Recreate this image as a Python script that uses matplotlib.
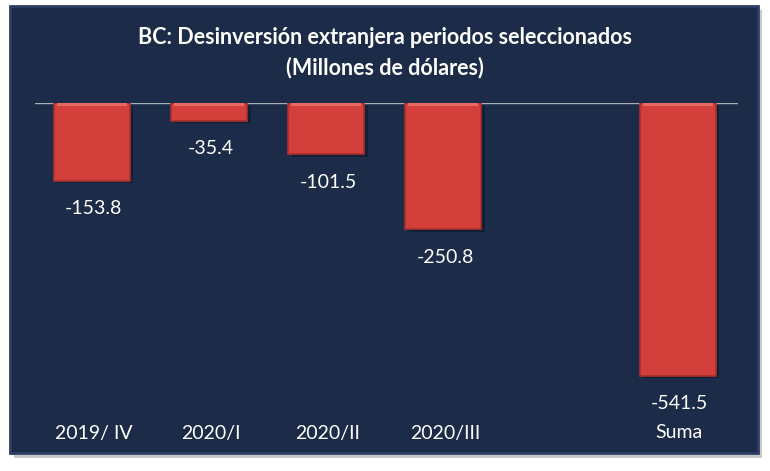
import matplotlib.pyplot as plt
from matplotlib.patches import Rectangle

categories = ['2019/ IV', '2020/I', '2020/II', '2020/III', '', 'Suma']
values = [-153.8, -35.4, -101.5, -250.8, None, -541.5]
labels = ['-153.8', '-35.4', '-101.5', '-250.8', '', '-541.5']

fig = plt.figure(figsize=(7.7, 4.71), dpi=100)
fig.patch.set_facecolor('white')

# dark panel with a soft shadow
W, H = 770, 471
fig.patches.append(Rectangle((14 / W, 1 - 458 / H), 748 / W, 448 / H,
                             transform=fig.transFigure, facecolor='#c9c9c9',
                             edgecolor='none', zorder=-2))
fig.patches.append(Rectangle((10 / W, 1 - 453 / H), 748 / W, 447 / H,
                             transform=fig.transFigure, facecolor='#1b2b48',
                             edgecolor='#2c4064', linewidth=2, zorder=-1))

fig.text(385 / W, 1 - 38 / H, 'BC: Desinversión extranjera periodos seleccionados',
         ha='center', va='center', color='white', fontsize=15.5, fontweight='bold',
         family='Lato')
fig.text(385 / W, 1 - 68 / H, '(Millones de dólares)',
         ha='center', va='center', color='white', fontsize=15.5, fontweight='bold',
         family='Lato')

ax = fig.add_axes([35 / W, 1 - 410 / H, 703 / W, 307 / H])
ax.set_facecolor('none')
ax.set_xlim(-0.5, 5.5)
ax.set_ylim(-609, 0)
for s in ax.spines.values():
    s.set_visible(False)
ax.set_xticks([])
ax.set_yticks([])
ax.axhline(0, color='#a8b0bd', linewidth=1, zorder=1)

xs = [i for i, v in enumerate(values) if v is not None]
vs = [v for v in values if v is not None]
# shadow, main bar, lighter top bevel
ax.bar([x + 0.015 for x in xs], vs, width=0.65, bottom=-5, color='#0e1727',
       alpha=0.6, zorder=2)
ax.bar([x - 0.015 for x in xs], vs, width=0.65, color='#d3403c',
       edgecolor='#a8302d', linewidth=1.2, zorder=3)
ax.bar([x - 0.015 for x in xs], [-6] * len(xs), width=0.6, color='#e86a63',
       zorder=4)

for x, v in zip(xs, vs):
    ax.annotate(labels[x], (x, v), xytext=(0, -14), textcoords='offset points',
                ha='center', va='top', color='white', fontsize=14, family='Lato')

for i, c in enumerate(categories):
    fig.text((35 + (i + 0.5) * 703 / 6) / W, 1 - 433 / H, c, ha='center',
             va='center', color='white', fontsize=14, family='Lato')

plt.savefig('out.png', dpi=100)
